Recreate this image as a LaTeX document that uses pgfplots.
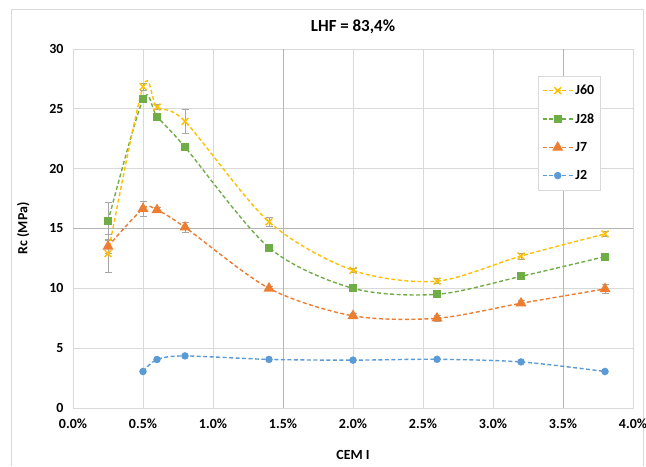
\documentclass[border=0pt]{standalone}
\usepackage{fontspec}
\setmainfont{Carlito}
\usepackage{pgfplots}
\pgfplotsset{compat=1.18}
\definecolor{cJsixty}{HTML}{FFC000}
\definecolor{cJtwentyeight}{HTML}{70AD47}
\definecolor{cJseven}{HTML}{ED7D31}
\definecolor{cJtwo}{HTML}{5B9BD5}
\definecolor{gridc}{HTML}{D9D9D9}
\definecolor{gridd}{HTML}{B5B5B5}
\definecolor{errc}{HTML}{A6A6A6}
\begin{document}
\begin{tikzpicture}[x=1bp,y=1bp]
\fill[white] (0,0) rectangle (646,466);
\draw[gridc, line width=0.8bp] (11,0) -- (11,457) -- (643,457) -- (643,0);
\useasboundingbox (0,0) rectangle (646,466);
\begin{axis}[
  at={(73bp,58bp)}, anchor=south west,
  scale only axis, width=560bp, height=359bp,
  xmin=0, xmax=4, ymin=0, ymax=30,
  xtick={0,0.5,1,1.5,2,2.5,3,3.5,4},
  xticklabels={0.0\%,0.5\%,1.0\%,1.5\%,2.0\%,2.5\%,3.0\%,3.5\%,4.0\%},
  ytick={0,5,10,15,20,25,30},
  yticklabels={0,5,10,15,20,25,30},
  extra x ticks={1.5,3.5}, extra x tick labels={},
  extra y ticks={15}, extra y tick labels={},
  extra tick style={grid=major, major grid style={gridd, line width=0.8bp}},
  grid=major,
  major grid style={gridc, line width=0.8bp},
  axis line style={gridc, line width=0.8bp},
  tick style={draw=none},
  ticklabel style={font=\fontsize{14}{16}\selectfont\bfseries},
  xticklabel style={yshift=-7bp},
  yticklabel style={xshift=-6bp},
  title={LHF = 83,4\%},
  title style={font=\fontsize{17}{20}\selectfont\bfseries, anchor=center, at={(axis description cs:0.5,1.045)}},
  xlabel={CEM I},
  xlabel style={font=\fontsize{14}{16}\selectfont\bfseries, anchor=center, at={(axis description cs:0.5,-0.131)}},
  ylabel={Rc (MPa)},
  ylabel style={font=\fontsize{14}{16}\selectfont\bfseries, anchor=center, at={(axis description cs:-0.089,0.5)}},
  legend style={at={(rel axis cs:0.830,0.925)}, anchor=north west,
    draw=gridc, fill=white, font=\fontsize{14}{16}\selectfont\bfseries,
    row sep=13.5bp, inner xsep=4bp, inner ysep=7bp},
  legend cell align=left,
  reverse legend,
  legend image code/.code={\draw[mark repeat=2,mark phase=2,#1] plot coordinates {(0bp,0bp)(15bp,0bp)(30bp,0bp)};},
  every axis plot/.append style={line width=1.4bp, dash pattern=on 4bp off 2.5bp, smooth, tension=0.5},
  error bars/error bar style={errc, line width=0.8bp, solid},
  error bars/error mark options={rotate=90, mark size=3.5bp, errc, line width=0.8bp, solid},
  clip=false,
]
% J2
\addplot[color=cJtwo, mark=*, mark size=3bp, mark options={solid, fill=cJtwo}]
  coordinates {(0.5,3.05) (0.6,4.05) (0.8,4.35) (1.4,4.06) (2.0,4.0) (2.6,4.07) (3.2,3.85) (3.8,3.05)};
\addlegendentry{J2}
% J7
\addplot[color=cJseven, mark=triangle*, mark size=5bp, mark options={solid, fill=cJseven},
  error bars/.cd, y dir=both, y explicit]
  coordinates {(0.25,13.5) +- (0,0.6) (0.5,16.65) +- (0,0.65) (0.6,16.55) +- (0,0.2) (0.8,15.1) +- (0,0.45)
    (1.4,10.0) +- (0,0.2) (2.0,7.7) +- (0,0.2) (2.6,7.5) +- (0,0.25) (3.2,8.75) +- (0,0.2) (3.8,9.95) +- (0,0.35)};
\addlegendentry{J7}
% J28
\addplot[color=cJtwentyeight, mark=square*, mark size=3.2bp, mark options={solid, fill=cJtwentyeight},
  error bars/.cd, y dir=both, y explicit]
  coordinates {(0.25,15.6) +- (0,1.6) (0.5,25.8) +- (0,0.3) (0.6,24.35) +- (0,0.2) (0.8,21.8) +- (0,0.2)
    (1.4,13.4) +- (0,0.2) (2.0,10.0) +- (0,0.15) (2.6,9.5) +- (0,0.15) (3.2,11.0) +- (0,0.15) (3.8,12.65) +- (0,0.15)};
\addlegendentry{J28}
% J60
\addplot[color=cJsixty, mark=x, mark size=4.8bp, mark options={solid, line width=1.4bp},
  error bars/.cd, y dir=both, y explicit]
  coordinates {(0.25,12.9) +- (0,1.6) (0.5,26.85) +- (0,0.3) (0.6,25.15) +- (0,0.2) (0.8,23.95) +- (0,1.0)
    (1.4,15.55) +- (0,0.4) (2.0,11.5) +- (0,0.2) (2.6,10.6) +- (0,0.2) (3.2,12.7) +- (0,0.25) (3.8,14.55) +- (0,0.2)};
\addlegendentry{J60}
\end{axis}
\end{tikzpicture}
\end{document}
